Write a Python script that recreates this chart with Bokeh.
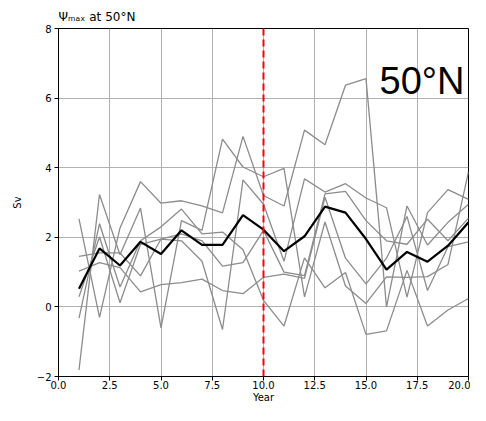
from bokeh.plotting import figure
from bokeh.models import Range1d, FixedTicker, Span, Label
from bokeh.embed import file_html
from bokeh.resources import INLINE

years = list(range(1, 21))

member_1 = [2.53, -0.30, 2.27, 3.60, 2.98, 3.05, 2.90, 2.70, 4.90, 3.20, 2.90, 5.08, 4.66, 6.37, 6.56, 0.00, 2.90, 1.78, 2.43, 2.95]
member_2 = [-1.81, 3.23, 1.50, 2.84, -0.60, 2.48, 2.20, 4.82, 4.02, 3.74, 3.98, 0.29, 2.44, 0.60, 0.10, 0.86, 0.85, 0.87, 1.22, 3.88]
member_3 = [-0.32, 2.39, 0.57, 1.90, 2.30, 2.81, 2.10, 2.15, 1.64, 0.19, -0.55, 1.41, 0.55, 0.99, -0.79, -0.69, 1.05, -0.55, -0.09, 0.24]
member_4 = [0.29, 2.01, 0.12, 1.80, 1.95, 1.90, 1.31, -0.65, 3.65, 2.95, 1.31, 3.68, 3.30, 3.54, 3.13, 2.85, 0.28, 2.71, 3.37, 3.09]
member_5 = [1.03, 1.27, 1.13, 0.43, 0.64, 0.70, 0.80, 0.47, 0.38, 0.85, 0.94, 0.82, 3.15, 1.40, 0.66, 1.40, 2.60, 0.47, 1.73, 1.87]
member_6 = [1.45, 1.55, 1.55, 0.89, 1.95, 2.10, 1.90, 1.17, 1.27, 2.20, 1.00, 0.90, 3.25, 3.32, 2.48, 1.90, 1.80, 2.52, 1.90, 2.55]
members = [member_1, member_2, member_3, member_4, member_5, member_6]

ensemble_mean = [0.52, 1.68, 1.19, 1.87, 1.52, 2.20, 1.78, 1.78, 2.64, 2.22, 1.60, 2.03, 2.88, 2.71, 1.95, 1.07, 1.58, 1.30, 1.76, 2.43]

event_year = 10
x_ticks = [0, 2.5, 5, 7.5, 10, 12.5, 15, 17.5, 20]
x_tick_labels = ["0.0", "2.5", "5.0", "7.5", "10.0", "12.5", "15.0", "17.5", "20.0"]
y_ticks = [-2, 0, 2, 4, 6, 8]
y_tick_labels = ["\u22122", "0", "2", "4", "6", "8"]

FONT = "DejaVu Sans"

p = figure(width=470, height=405, output_backend="svg", toolbar_location=None,
           x_range=Range1d(0, 20), y_range=Range1d(-2, 8),
           min_border_left=58, min_border_right=2, min_border_top=28, min_border_bottom=24,
           title="\u03a8\u2098\u2090\u2093 at 50\u00b0N")
p.background_fill_color = "white"
p.border_fill_color = "white"
p.outline_line_color = "black"
p.outline_line_width = 1

p.title.text_font = FONT
p.title.text_font_size = "12px"
p.title.text_font_style = "normal"
p.title.text_color = "black"
p.title.align = "left"
p.title.standoff = 9

for m in members:
    p.line(years, m, line_color="#8c8c8c", line_width=1.3)
p.line(years, ensemble_mean, line_color="black", line_width=2.2)

p.add_layout(Span(location=event_year, dimension="height", line_color="red",
                  line_width=2, line_dash="7 4"))

for ax in (p.xaxis, p.yaxis):
    ax.axis_line_color = "black"
    ax.major_tick_line_color = "black"
    ax.major_tick_in = 0
    ax.major_tick_out = 4
    ax.minor_tick_line_color = None
    ax.major_label_text_font = FONT
    ax.major_label_text_font_size = "10px"
    ax.major_label_text_color = "black"
    ax.axis_label_text_font = FONT
    ax.axis_label_text_font_size = "10px"
    ax.axis_label_text_font_style = "normal"
    ax.axis_label_text_color = "black"

p.xaxis.ticker = FixedTicker(ticks=x_ticks)
p.xaxis.major_label_overrides = dict(zip(x_ticks, x_tick_labels))
p.yaxis.ticker = FixedTicker(ticks=y_ticks)
p.yaxis.major_label_overrides = dict(zip(y_ticks, y_tick_labels))
p.xaxis.axis_label = "Year"
p.yaxis.axis_label = "Sv"
p.xaxis.major_label_standoff = 0
p.xaxis.axis_label_standoff = 0
p.yaxis.major_label_standoff = 3
p.yaxis.axis_label_standoff = 11

p.xgrid.grid_line_color = "#b0b0b0"
p.ygrid.grid_line_color = "#b0b0b0"
p.xgrid.grid_line_width = 1
p.ygrid.grid_line_width = 1

p.add_layout(Label(x=19.8, y=6.5, text="50\u00b0N", text_font="Liberation Sans",
                   text_font_size="38px", text_align="right", text_baseline="middle",
                   text_color="black"))

open("out.html", "w").write(file_html(p, INLINE))
